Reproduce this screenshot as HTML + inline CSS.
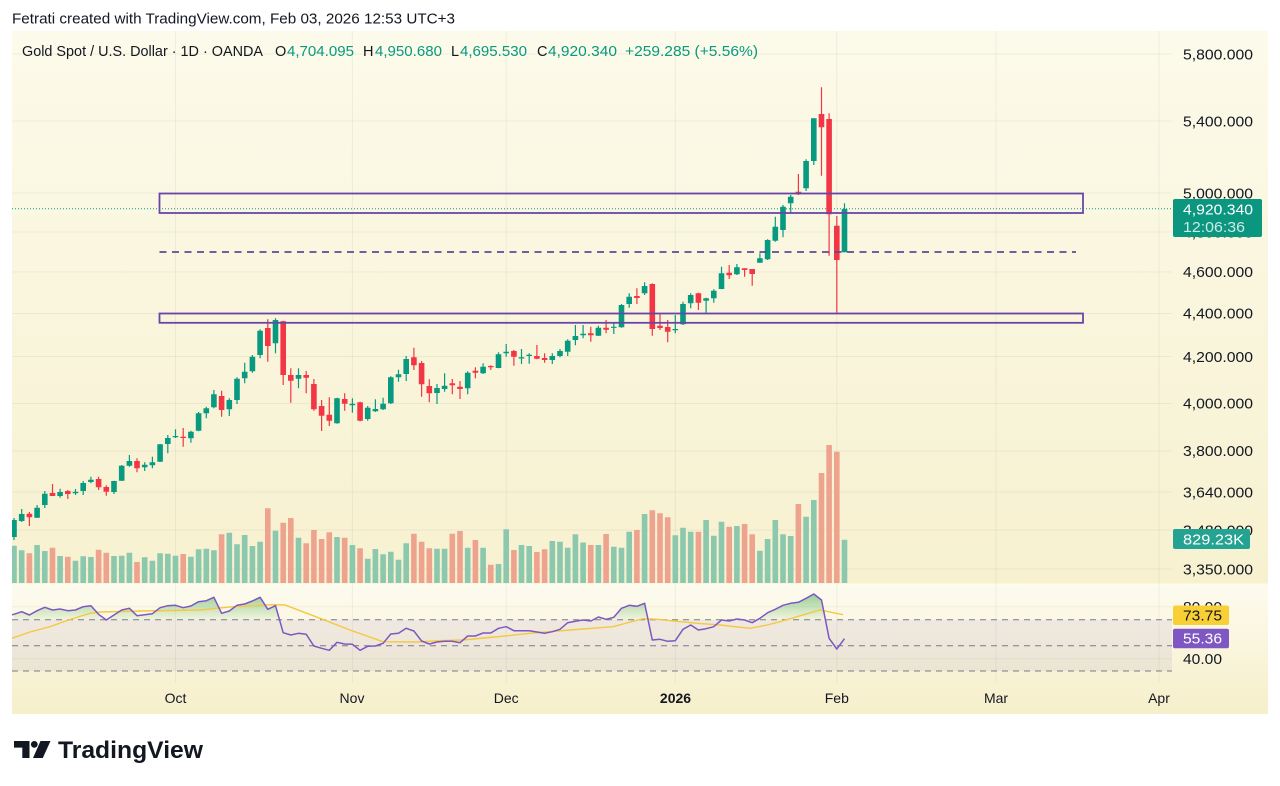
<!DOCTYPE html>
<html><head><meta charset="utf-8"><style>
html,body{margin:0;padding:0;background:#fff;}
svg{display:block;font-family:"Liberation Sans",Arial,sans-serif;}
</style></head><body>
<svg width="1280" height="786" viewBox="0 0 1280 786" xmlns="http://www.w3.org/2000/svg">
<defs>
<linearGradient id="g1" x1="0" y1="31" x2="0" y2="583.5" gradientUnits="userSpaceOnUse">
<stop offset="0" stop-color="#fcfaea"/><stop offset="1" stop-color="#f7f1d0"/></linearGradient>
<linearGradient id="g2" x1="0" y1="583.5" x2="0" y2="714" gradientUnits="userSpaceOnUse">
<stop offset="0" stop-color="#fdfbef"/><stop offset="1" stop-color="#f6efca"/></linearGradient>
<linearGradient id="gf" x1="0" y1="592" x2="0" y2="620" gradientUnits="userSpaceOnUse">
<stop offset="0" stop-color="#4caf50" stop-opacity="0.6"/><stop offset="1" stop-color="#4caf50" stop-opacity="0.05"/></linearGradient>
<clipPath id="cp"><rect x="12" y="31" width="1160" height="552.5"/></clipPath>
<clipPath id="cr"><rect x="12" y="583.5" width="1160" height="36.2"/></clipPath>
<clipPath id="cr2"><rect x="12" y="583.5" width="1160" height="100"/></clipPath>
</defs>
<rect width="1280" height="786" fill="#fff"/>
<text x="12" y="23.5" font-size="14.5" fill="#131722" textLength="443" lengthAdjust="spacingAndGlyphs">Fetrati created with TradingView.com, Feb 03, 2026 12:53 UTC+3</text>
<rect x="12" y="31" width="1256" height="552.5" fill="url(#g1)"/>
<rect x="12" y="583.5" width="1256" height="130.5" fill="url(#g2)"/>
<!-- grid -->
<g stroke="#2a2e39" stroke-opacity="0.06" stroke-width="1">
<path d="M12 54H1172M12 121H1172M12 193H1172M12 232H1172M12 272H1172M12 313.5H1172M12 356.5H1172M12 403.5H1172M12 451H1172M12 492H1172M12 530H1172M12 569H1172M12 606.7H1172M12 658.7H1172"/>
<path d="M175.5 31V683M352.4 31V683M506.2 31V683M675.3 31V683M836.8 31V683M996 31V683M1159 31V683"/>
</g>
<!-- legend -->
<g font-size="14.5">
<text x="22" y="56" fill="#131722" textLength="241" lengthAdjust="spacingAndGlyphs">Gold Spot / U.S. Dollar · 1D · OANDA</text>
<text x="275" y="56" fill="#131722">O</text><text x="287" y="56" fill="#089981" textLength="67" lengthAdjust="spacingAndGlyphs">4,704.095</text>
<text x="363" y="56" fill="#131722">H</text><text x="375" y="56" fill="#089981" textLength="67" lengthAdjust="spacingAndGlyphs">4,950.680</text>
<text x="451" y="56" fill="#131722">L</text><text x="460" y="56" fill="#089981" textLength="67" lengthAdjust="spacingAndGlyphs">4,695.530</text>
<text x="537" y="56" fill="#131722">C</text><text x="548" y="56" fill="#089981" textLength="69" lengthAdjust="spacingAndGlyphs">4,920.340</text>
<text x="625" y="56" fill="#089981" textLength="133" lengthAdjust="spacingAndGlyphs">+259.285 (+5.56%)</text>
</g>
<g clip-path="url(#cp)">
<!-- volume -->
<path fill="#8cc8ae" d="M11.2 545.7h5.6V583h-5.6zM18.9 550.3h5.6V583h-5.6zM34.3 545h5.6V583h-5.6zM42 551h5.6V583h-5.6zM57.3 556h5.6V583h-5.6zM72.7 560.7h5.6V583h-5.6zM80.4 556.3h5.6V583h-5.6zM88.1 557h5.6V583h-5.6zM111.2 556h5.6V583h-5.6zM118.9 555.7h5.6V583h-5.6zM126.6 552.7h5.6V583h-5.6zM141.9 557.3h5.6V583h-5.6zM149.6 560.7h5.6V583h-5.6zM157.3 553.3h5.6V583h-5.6zM165 553.7h5.6V583h-5.6zM172.7 555.7h5.6V583h-5.6zM188.1 556.7h5.6V583h-5.6zM195.8 549.3h5.6V583h-5.6zM203.5 548.7h5.6V583h-5.6zM211.1 550.3h5.6V583h-5.6zM226.5 532.7h5.6V583h-5.6zM234.2 544.3h5.6V583h-5.6zM241.9 535h5.6V583h-5.6zM249.6 546h5.6V583h-5.6zM257.3 541.7h5.6V583h-5.6zM272.7 530.7h5.6V583h-5.6zM295.7 537.7h5.6V583h-5.6zM334.2 537h5.6V583h-5.6zM349.6 545h5.6V583h-5.6zM364.9 558.7h5.6V583h-5.6zM372.6 549h5.6V583h-5.6zM380.3 554.3h5.6V583h-5.6zM388 551.7h5.6V583h-5.6zM395.7 559.7h5.6V583h-5.6zM403.4 543.3h5.6V583h-5.6zM434.2 548.7h5.6V583h-5.6zM441.8 548.7h5.6V583h-5.6zM464.9 547.7h5.6V583h-5.6zM480.3 547.7h5.6V583h-5.6zM495.7 564h5.6V583h-5.6zM503.4 529.3h5.6V583h-5.6zM518.7 545h5.6V583h-5.6zM526.4 546h5.6V583h-5.6zM549.5 541h5.6V583h-5.6zM557.2 541.7h5.6V583h-5.6zM564.9 547.7h5.6V583h-5.6zM572.6 534.3h5.6V583h-5.6zM580.3 542.5h5.6V583h-5.6zM595.6 545h5.6V583h-5.6zM611 546.7h5.6V583h-5.6zM618.7 547.7h5.6V583h-5.6zM626.4 531.7h5.6V583h-5.6zM641.8 514h5.6V583h-5.6zM672.5 535.3h5.6V583h-5.6zM680.2 527.7h5.6V583h-5.6zM687.9 531.7h5.6V583h-5.6zM703.3 520h5.6V583h-5.6zM711 535.7h5.6V583h-5.6zM718.7 521.7h5.6V583h-5.6zM734.1 526h5.6V583h-5.6zM757.1 550.7h5.6V583h-5.6zM764.8 539h5.6V583h-5.6zM772.5 520h5.6V583h-5.6zM780.2 534.3h5.6V583h-5.6zM787.9 536h5.6V583h-5.6zM803.3 516.7h5.6V583h-5.6zM811 500h5.6V583h-5.6zM841.7 539.7h5.6V583h-5.6z"/>
<path fill="#eea38f" d="M26.6 553.3h5.6V583h-5.6zM49.7 547.7h5.6V583h-5.6zM65 556.7h5.6V583h-5.6zM95.8 549.7h5.6V583h-5.6zM103.5 552.7h5.6V583h-5.6zM134.2 562h5.6V583h-5.6zM180.4 554h5.6V583h-5.6zM218.8 534.3h5.6V583h-5.6zM265 508.3h5.6V583h-5.6zM280.4 522.7h5.6V583h-5.6zM288 518h5.6V583h-5.6zM303.4 543.3h5.6V583h-5.6zM311.1 530h5.6V583h-5.6zM318.8 539h5.6V583h-5.6zM326.5 532.3h5.6V583h-5.6zM341.9 537.7h5.6V583h-5.6zM357.3 548.3h5.6V583h-5.6zM411.1 533.7h5.6V583h-5.6zM418.8 541.7h5.6V583h-5.6zM426.5 548.3h5.6V583h-5.6zM449.5 533.7h5.6V583h-5.6zM457.2 531h5.6V583h-5.6zM472.6 540h5.6V583h-5.6zM488 564.7h5.6V583h-5.6zM511.1 550h5.6V583h-5.6zM534.1 552h5.6V583h-5.6zM541.8 549.3h5.6V583h-5.6zM588 545h5.6V583h-5.6zM603.3 534h5.6V583h-5.6zM634.1 530h5.6V583h-5.6zM649.5 510.3h5.6V583h-5.6zM657.2 513.3h5.6V583h-5.6zM664.9 517.3h5.6V583h-5.6zM695.6 531.7h5.6V583h-5.6zM726.4 526.7h5.6V583h-5.6zM741.8 524h5.6V583h-5.6zM749.4 534.3h5.6V583h-5.6zM795.6 504h5.6V583h-5.6zM818.7 473h5.6V583h-5.6zM826.3 445h5.6V583h-5.6zM834 451.7h5.6V583h-5.6z"/>
<!-- current price line -->
<path d="M12 208.7H1172" stroke="#089981" stroke-width="1" stroke-dasharray="1 2"/>
<!-- candles green -->
<path fill="none" stroke="#089981" stroke-width="1.2" d="M14 518V540M21.7 509V522M37.1 505V518M44.8 491V508M60.1 488.7V497.7M75.5 489V495M83.2 481V495M90.9 476.7V483.3M114 480.7V494M121.7 465V481M129.4 455V466.7M144.7 462.3V471M152.4 456.7V468.3M160.1 444V462M167.8 435V453.3M175.5 429.3V438M190.9 430.7V442.7M198.6 412V431.3M206.3 406.7V418.3M213.9 390V408.3M229.3 398.3V416M237 377.3V404M244.7 362.7V383.3M252.4 355V372.7M260.1 329.3V358.3M275.5 318.3V353.3M298.5 368.3V388.3M337 397.7V423.7M352.4 398.3V412.7M367.7 406V420.7M375.4 399.3V412M383.1 397.7V410M390.8 376.3V404M398.5 369.7V381.7M406.2 356V381M437 384V404M444.6 373.3V391.7M467.7 371.3V394.3M483.1 363.3V374M498.5 352.3V368.3M506.2 344V356.7M521.5 349V364M529.2 353.3V363.7M552.3 353.3V364M560 349V357.3M567.7 339.3V356M575.4 325V345.3M583.1 325V338.3M598.4 325.7V336M613.8 323.3V334M621.5 304V327.7M629.2 293.3V307.7M644.6 282.3V295M675.3 315V333.3M683 301.7V325M690.7 293.3V308.3M706.1 297.7V312.7M713.8 289.3V302.7M721.5 266.7V289.3M736.9 264V275M759.9 253.3V262.7M767.6 239.3V260M775.3 216.7V241.7M783 205V237.3M790.7 195V213.3M806.1 159.3V191M813.8 118.3V165M844.5 203.3V252.3"/>
<path fill="#089981" d="M11.2 520h5.6V537h-5.6zM18.9 514h5.6V521h-5.6zM34.3 507.7h5.6V517.7h-5.6zM42 493.7h5.6V505h-5.6zM57.3 492h5.6V496h-5.6zM72.7 491.7h5.6V493.3h-5.6zM80.4 483h5.6V491h-5.6zM88.1 479.7h5.6V482h-5.6zM111.2 481h5.6V492h-5.6zM118.9 465.7h5.6V480.7h-5.6zM126.6 461h5.6V465.7h-5.6zM141.9 464.7h5.6V467.3h-5.6zM149.6 462.3h5.6V465.3h-5.6zM157.3 444.3h5.6V461.7h-5.6zM165 438h5.6V444h-5.6zM172.7 436h5.6V437.3h-5.6zM188.1 431.7h5.6V438.3h-5.6zM195.8 413.3h5.6V430.7h-5.6zM203.5 408.3h5.6V413.3h-5.6zM211.1 394.3h5.6V407.3h-5.6zM226.5 400h5.6V409.3h-5.6zM234.2 378.7h5.6V400h-5.6zM241.9 371.7h5.6V378.3h-5.6zM249.6 356.7h5.6V371.3h-5.6zM257.3 330.7h5.6V355h-5.6zM272.7 320h5.6V343.3h-5.6zM295.7 375h5.6V378.7h-5.6zM334.2 398.3h5.6V423.3h-5.6zM349.6 403.7h5.6V405.3h-5.6zM364.9 407.7h5.6V419h-5.6zM372.6 409h5.6V411.3h-5.6zM380.3 403.7h5.6V409.3h-5.6zM388 377.3h5.6V403.3h-5.6zM395.7 374.3h5.6V377.3h-5.6zM403.4 359h5.6V374h-5.6zM434.2 388h5.6V393h-5.6zM441.8 385.7h5.6V389h-5.6zM464.9 372.7h5.6V388.3h-5.6zM480.3 366.7h5.6V373.3h-5.6zM495.7 354.3h5.6V368h-5.6zM503.4 351.7h5.6V353.3h-5.6zM518.7 357.3h5.6V358.5h-5.6zM526.4 354.7h5.6V356h-5.6zM549.5 356h5.6V360h-5.6zM557.2 351h5.6V356h-5.6zM564.9 340.7h5.6V351.7h-5.6zM572.6 336h5.6V340h-5.6zM580.3 333.7h5.6V335.3h-5.6zM595.6 327.7h5.6V335.7h-5.6zM611 326.7h5.6V327.9h-5.6zM618.7 305h5.6V327.3h-5.6zM626.4 296.7h5.6V304h-5.6zM641.8 286h5.6V293.3h-5.6zM672.5 329h5.6V330.2h-5.6zM680.2 304h5.6V324.3h-5.6zM687.9 295h5.6V303.3h-5.6zM703.3 298.3h5.6V300.7h-5.6zM711 290.7h5.6V298.3h-5.6zM718.7 273.3h5.6V289h-5.6zM734.1 267.3h5.6V274.3h-5.6zM757.1 258.3h5.6V262.7h-5.6zM764.8 240h5.6V259.3h-5.6zM772.5 226.7h5.6V240.7h-5.6zM780.2 206.7h5.6V230h-5.6zM787.9 196.7h5.6V203.3h-5.6zM803.3 161h5.6V188.3h-5.6zM811 118.3h5.6V161h-5.6zM841.7 209h5.6V252.3h-5.6z"/>
<!-- candles red -->
<path fill="none" stroke="#f23645" stroke-width="1.2" d="M29.4 512V526M52.5 484V496M67.8 490V499M98.6 476.7V490M106.3 485.3V495.7M137 458.3V472.3M183.2 428V446.7M221.6 390.7V416.7M267.8 319.3V361.7M283.2 320.7V385M290.8 368.3V402.7M306.2 371V393.3M313.9 379V410.7M321.6 400V431M329.3 397.3V426M344.7 393.3V410.7M360.1 401.7V421.3M413.9 347.7V370M421.6 361V396.7M429.3 379.3V402.3M452.3 379V394.3M460 381V399M475.4 367.3V378.3M490.8 365.3V370M513.9 350V365.7M536.9 345V359.3M544.6 353.3V362.7M590.8 326.7V341.7M606.1 320V333.3M636.9 288.3V304M652.3 283.3V335.7M660 314.3V330M667.7 320V342.3M698.4 292.7V310M729.2 265V279M744.6 268.3V276.7M752.2 269V285.7M798.4 174V195M821.5 87.3V175.7M829.1 113.3V255.7M836.8 216V312.7"/>
<path fill="#f23645" d="M26.6 513.7h5.6V517.3h-5.6zM49.7 493h5.6V496h-5.6zM65 491h5.6V494h-5.6zM95.8 479h5.6V487.3h-5.6zM103.5 487h5.6V491.7h-5.6zM134.2 461h5.6V468.3h-5.6zM180.4 436.7h5.6V438h-5.6zM218.8 396h5.6V410h-5.6zM265 328h5.6V346h-5.6zM280.4 321.3h5.6V375h-5.6zM288 375h5.6V380.7h-5.6zM303.4 375h5.6V377.7h-5.6zM311.1 384h5.6V409.3h-5.6zM318.8 406h5.6V415.7h-5.6zM326.5 414.7h5.6V420.7h-5.6zM341.9 399h5.6V403.7h-5.6zM357.3 402.3h5.6V420.7h-5.6zM411.1 357.3h5.6V365.3h-5.6zM418.8 363h5.6V384.3h-5.6zM426.5 386h5.6V393.3h-5.6zM449.5 383.3h5.6V385.3h-5.6zM457.2 386.7h5.6V389h-5.6zM472.6 370.7h5.6V372.7h-5.6zM488 366h5.6V367.3h-5.6zM511.1 351h5.6V356.7h-5.6zM534.1 356h5.6V358.7h-5.6zM541.8 358h5.6V360h-5.6zM588 333.3h5.6V335.3h-5.6zM603.3 327.7h5.6V329.7h-5.6zM634.1 296h5.6V298h-5.6zM649.5 284h5.6V329h-5.6zM657.2 325.7h5.6V328h-5.6zM664.9 327h5.6V331.7h-5.6zM695.6 293.3h5.6V302.7h-5.6zM726.4 272.7h5.6V275.3h-5.6zM741.8 268.3h5.6V270h-5.6zM749.4 269h5.6V274h-5.6zM795.6 191.7h5.6V194.3h-5.6zM818.7 114h5.6V127.3h-5.6zM826.3 119h5.6V214.3h-5.6zM834 225.7h5.6V260h-5.6z"/>
<!-- drawings -->
<rect x="159.5" y="193.5" width="923.5" height="19.5" fill="none" stroke="#6a45a8" stroke-width="1.8"/>
<rect x="159.5" y="313.5" width="923.5" height="9.3" fill="none" stroke="#6a45a8" stroke-width="1.8"/>
<path d="M159.5 252H1076" stroke="#5d4b94" stroke-width="1.8" stroke-dasharray="7 5.5"/>
</g>
<!-- RSI pane -->
<rect x="12" y="619.7" width="1160" height="51.3" fill="#7e57c2" fill-opacity="0.09"/>
<g stroke="#787b86" stroke-width="1" stroke-dasharray="6 5">
<path d="M12 619.7H1172M12 645.7H1172M12 671H1172"/>
</g>
<path clip-path="url(#cr)" fill="url(#gf)" d="M14 619.7L14 614.3 21.7 611.7 29.4 615 37.1 610.7 44.8 607.3 52.5 610 60.1 609 67.8 610.7 75.5 610 83.2 606.7 90.9 605.7 98.6 614.3 106.3 620 114 615 121.7 610 129.4 608.3 137 615.7 144.7 614.7 152.4 613.7 160.1 607.7 167.8 605.7 175.5 605.3 183.2 607.7 190.9 606 198.6 601.7 206.3 600.7 213.9 597.3 221.6 613.3 229.3 611 237 605.3 244.7 604 252.4 601 260.1 597.3 267.8 609.3 275.5 605.7 283.2 632.7 290.8 635 298.5 633.3 306.2 634.3 313.9 646 321.6 648.3 329.3 650.3 337 642.3 344.7 644 352.4 644.3 360.1 650.3 367.7 646.3 375.4 646 383.1 643.3 390.8 634 398.5 633.3 406.2 628.3 413.9 631 421.6 641 429.3 644 437 642 444.6 641.3 452.3 641.3 460 642.7 467.7 636 475.4 636 483.1 633 490.8 633 498.5 628.3 506.2 626.7 513.9 630.7 521.5 630.7 529.2 630.7 536.9 632 544.6 633.3 552.3 631.7 560 629.3 567.7 622.7 575.4 621.3 583.1 620 590.8 621 598.4 617 606.1 619.3 613.8 617.3 621.5 608.3 629.2 605.3 636.9 606.3 644.6 603.3 652.3 640 660 639.3 667.7 641.3 675.3 640.7 683 629.3 690.7 625 698.4 630 706.1 628.7 713.8 626.7 721.5 620 729.2 621 736.9 619 744.6 620 752.2 622.7 759.9 618.3 767.6 612.7 775.3 609.3 783 605.3 790.7 603.3 798.4 602.3 806.1 598.3 813.8 594 821.5 600 829.1 638.3 836.8 649 844.5 638.7 844.5 619.7Z"/>
<g clip-path="url(#cr2)">
<polyline fill="none" stroke="#f5c842" stroke-width="1.4" points="12,638.3 30,632 50,626.7 70,619.5 90,613.3 100,612 140,611 200,610 233,606.7 273,604.7 285,605 300,610.7 320,618.3 350,630 383,641.7 417,642 440,640.7 463,640 500,636.5 530,633.3 570,630 613,626.7 643,618.7 657,619.3 697,623.3 720,625 750,628.3 765,625.5 780,621.7 797,616.7 820,610 843,614.7"/>
<polyline fill="none" stroke="#7e57c2" stroke-width="1.5" stroke-linejoin="round" points="12,614.8 14,614.3 21.7,611.7 29.4,615 37.1,610.7 44.8,607.3 52.5,610 60.1,609 67.8,610.7 75.5,610 83.2,606.7 90.9,605.7 98.6,614.3 106.3,620 114,615 121.7,610 129.4,608.3 137,615.7 144.7,614.7 152.4,613.7 160.1,607.7 167.8,605.7 175.5,605.3 183.2,607.7 190.9,606 198.6,601.7 206.3,600.7 213.9,597.3 221.6,613.3 229.3,611 237,605.3 244.7,604 252.4,601 260.1,597.3 267.8,609.3 275.5,605.7 283.2,632.7 290.8,635 298.5,633.3 306.2,634.3 313.9,646 321.6,648.3 329.3,650.3 337,642.3 344.7,644 352.4,644.3 360.1,650.3 367.7,646.3 375.4,646 383.1,643.3 390.8,634 398.5,633.3 406.2,628.3 413.9,631 421.6,641 429.3,644 437,642 444.6,641.3 452.3,641.3 460,642.7 467.7,636 475.4,636 483.1,633 490.8,633 498.5,628.3 506.2,626.7 513.9,630.7 521.5,630.7 529.2,630.7 536.9,632 544.6,633.3 552.3,631.7 560,629.3 567.7,622.7 575.4,621.3 583.1,620 590.8,621 598.4,617 606.1,619.3 613.8,617.3 621.5,608.3 629.2,605.3 636.9,606.3 644.6,603.3 652.3,640 660,639.3 667.7,641.3 675.3,640.7 683,629.3 690.7,625 698.4,630 706.1,628.7 713.8,626.7 721.5,620 729.2,621 736.9,619 744.6,620 752.2,622.7 759.9,618.3 767.6,612.7 775.3,609.3 783,605.3 790.7,603.3 798.4,602.3 806.1,598.3 813.8,594 821.5,600 829.1,638.3 836.8,649 844.5,638.7"/>
</g>
<!-- price axis labels -->
<g font-size="15" fill="#131722">
<text x="1183" y="59.4" textLength="70" lengthAdjust="spacingAndGlyphs">5,800.000</text>
<text x="1183" y="126.4" textLength="70" lengthAdjust="spacingAndGlyphs">5,400.000</text>
<text x="1183" y="198.4" textLength="70" lengthAdjust="spacingAndGlyphs">5,000.000</text>
<text x="1183" y="237.4" textLength="70" lengthAdjust="spacingAndGlyphs">4,800.000</text>
<text x="1183" y="277.1" textLength="70" lengthAdjust="spacingAndGlyphs">4,600.000</text>
<text x="1183" y="318.6" textLength="70" lengthAdjust="spacingAndGlyphs">4,400.000</text>
<text x="1183" y="362" textLength="70" lengthAdjust="spacingAndGlyphs">4,200.000</text>
<text x="1183" y="408.6" textLength="70" lengthAdjust="spacingAndGlyphs">4,000.000</text>
<text x="1183" y="456.2" textLength="70" lengthAdjust="spacingAndGlyphs">3,800.000</text>
<text x="1183" y="497.3" textLength="70" lengthAdjust="spacingAndGlyphs">3,640.000</text>
<text x="1183" y="535.4" textLength="70" lengthAdjust="spacingAndGlyphs">3,480.000</text>
<text x="1183" y="574.4" textLength="70" lengthAdjust="spacingAndGlyphs">3,350.000</text>
<text x="1183" y="612" textLength="39" lengthAdjust="spacingAndGlyphs">80.00</text>
<text x="1183" y="664.2" textLength="39" lengthAdjust="spacingAndGlyphs">40.00</text>
</g>
<!-- price axis badges -->
<rect x="1173" y="199" width="89" height="38" rx="2" fill="#0b9680"/>
<text x="1183" y="214.5" font-size="15" fill="#ffffff" textLength="70" lengthAdjust="spacingAndGlyphs">4,920.340</text>
<text x="1183" y="232" font-size="15" fill="#ffffff" fill-opacity="0.8" textLength="62" lengthAdjust="spacingAndGlyphs">12:06:36</text>
<rect x="1173" y="529" width="77" height="20" rx="2" fill="#24a393"/>
<text x="1183" y="544.5" font-size="15" fill="#ffffff" textLength="61" lengthAdjust="spacingAndGlyphs">829.23K</text>
<rect x="1173" y="605.5" width="56" height="19.5" rx="2" fill="#f8cf34"/>
<text x="1183" y="620.5" font-size="15" fill="#131722" textLength="39" lengthAdjust="spacingAndGlyphs">73.75</text>
<rect x="1173" y="628.7" width="56" height="19.5" rx="2" fill="#7e57c2"/>
<text x="1183" y="643.6" font-size="15" fill="#ffffff" textLength="39" lengthAdjust="spacingAndGlyphs">55.36</text>
<!-- time axis -->
<g font-size="14" fill="#131722" text-anchor="middle">
<text x="175.5" y="703">Oct</text>
<text x="352" y="703">Nov</text>
<text x="506.2" y="703">Dec</text>
<text x="675.5" y="703" font-weight="bold">2026</text>
<text x="836.8" y="703">Feb</text>
<text x="996" y="703">Mar</text>
<text x="1159" y="703">Apr</text>
</g>
<!-- TradingView logo -->
<g fill="#131722">
<path d="M14 741H29.5V758H22.3V747.6H14Z"/>
<circle cx="34.3" cy="744.4" r="3.4"/>
<path d="M40.5 741H50.5L42.8 758H33Z"/>
<text x="58" y="758" font-size="24" font-weight="bold" textLength="145" lengthAdjust="spacingAndGlyphs">TradingView</text>
</g>
</svg>
</body></html>
